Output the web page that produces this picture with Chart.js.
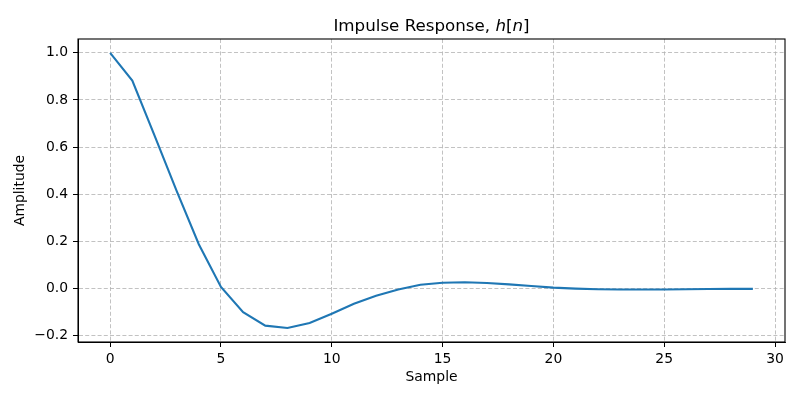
<!DOCTYPE html>
<html>
<head>
<meta charset="utf-8">
<script src="https://cdn.jsdelivr.net/npm/chart.js@4/dist/chart.umd.min.js"></script>
<style>
  html, body { margin: 0; padding: 0; background: #fff; }
  #wrap { width: 800px; height: 400px; }
</style>
</head>
<body>
<div id="wrap"><canvas id="c" width="800" height="400"></canvas></div>
<script>
// ---- data ----
const samples = [0,1,2,3,4,5,6,7,8,9,10,11,12,13,14,15,16,17,18,19,20,21,22,23,24,25,26,27,28,29];
const amplitude = [1.0, 0.882, 0.650, 0.414, 0.188, 0.007, -0.100, -0.157, -0.167, -0.146,
                   -0.107, -0.064, -0.030, -0.004, 0.016, 0.025, 0.027, 0.024, 0.018, 0.011,
                   0.004, 0.000, -0.003, -0.004, -0.004, -0.004, -0.003, -0.002, -0.001, -0.001];
const xTicks = [0, 5, 10, 15, 20, 25, 30];
const yTicks = [-0.2, 0.0, 0.2, 0.4, 0.6, 0.8, 1.0];
const titleParts = [["Impulse Response, ", false], ["h", true], ["[", false], ["n", true], ["]", false]];
const xLabel = "Sample";
const yLabel = "Amplitude";

const FONT = "'DejaVu Sans', sans-serif";

const framePlugin = {
  id: 'frame',
  afterDraw(chart) {
    const {ctx, chartArea: a} = chart;
    ctx.save();
    ctx.strokeStyle = '#000';
    ctx.lineWidth = 1.1;
    ctx.strokeRect(a.left, a.top, a.right - a.left, a.bottom - a.top);
    // title with mathtext-like italics
    ctx.fillStyle = '#000';
    ctx.textBaseline = 'alphabetic';
    ctx.textAlign = 'left';
    const size = 16.7;
    let total = 0;
    const widths = titleParts.map(([t, it]) => {
      ctx.font = (it ? 'italic ' : '') + size + 'px ' + FONT;
      const w = ctx.measureText(t).width; total += w; return w;
    });
    let x = (a.left + a.right) / 2 - total / 2;
    titleParts.forEach(([t, it], i) => {
      ctx.font = (it ? 'italic ' : '') + size + 'px ' + FONT;
      ctx.fillText(t, x, 30.5);
      x += widths[i];
    });
    ctx.restore();
  }
};

new Chart(document.getElementById('c'), {
  type: 'line',
  data: {
    datasets: [{
      data: samples.map((s, i) => ({x: s, y: amplitude[i]})),
      borderColor: '#1f77b4',
      borderWidth: 2.1,
      pointRadius: 0,
      tension: 0,
      fill: false
    }]
  },
  options: {
    responsive: false,
    animation: false,
    devicePixelRatio: 1,
    layout: { padding: { left: 0, right: 15, top: 39, bottom: 0 } },
    plugins: { legend: { display: false }, tooltip: { enabled: false }, title: { display: false } },
    scales: {
      x: {
        type: 'linear',
        min: -1.45, max: 30.45,
        afterBuildTicks: s => { s.ticks = xTicks.map(v => ({value: v})); },
        afterFit: s => { s.height = 58; },
        ticks: { color: '#000', font: { family: FONT, size: 13.9 }, padding: 4.5, maxRotation: 0,
                 callback: v => String(v) },
        grid: { color: '#b3b3b3', lineWidth: 0.8, tickColor: '#000', tickLength: 5, tickWidth: 1 },
        border: { display: true, color: '#000', width: 1, dash: [4, 2.2] },
        title: { display: true, text: xLabel, color: '#000', font: { family: FONT, size: 13.9 },
                 padding: { top: 0, bottom: 14.5 } }
      },
      y: {
        type: 'linear',
        min: -0.2265, max: 1.0585,
        afterBuildTicks: s => { s.ticks = yTicks.map(v => ({value: v})); },
        afterFit: s => { s.width = 78; },
        ticks: { color: '#000', font: { family: FONT, size: 13.9 }, padding: 5,
                 callback: v => v.toFixed(1).replace('-', '\u2212') },
        grid: { color: '#b3b3b3', lineWidth: 0.8, tickColor: '#000', tickLength: 5, tickWidth: 1 },
        border: { display: true, color: '#000', width: 1, dash: [4, 2.2] },
        title: { display: true, text: yLabel, color: '#000', font: { family: FONT, size: 13.9 },
                 padding: { top: 12.5, bottom: 0 } }
      }
    }
  },
  plugins: [framePlugin]
});
</script>
</body>
</html>
